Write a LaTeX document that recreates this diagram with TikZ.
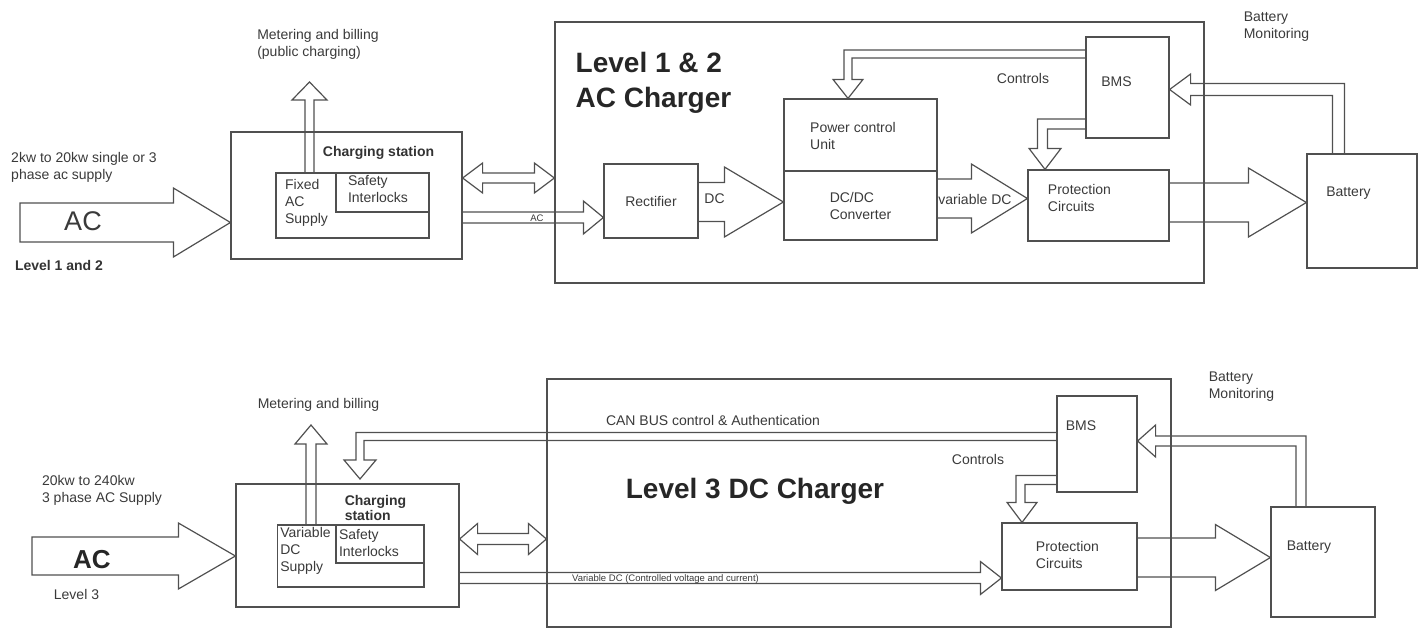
\documentclass[tikz,border=0pt]{standalone}
\usepackage{fontspec}
\setmainfont{Liberation Sans}
\usetikzlibrary{positioning, calc}

\definecolor{linegray}{HTML}{505050}
\definecolor{textgray}{HTML}{3A3A3A}

\tikzset{
  box/.style 2 args={draw=linegray, line width=1.2pt, minimum width=#1pt, minimum height=#2pt, inner sep=0pt},
  flow/.style={draw=linegray, line width=1.2pt, line join=miter},
  txt/.style={font=\fontsize{14}{17}\selectfont, text=textgray, align=left, inner sep=0pt},
  boldtxt/.style={font=\fontsize{14}{15}\bfseries\selectfont, text=black!80, align=left, inner sep=0pt},
  headtxt/.style={font=\fontsize{28}{35}\bfseries\selectfont, text=black!85, align=left, inner sep=0pt},
  tinytxt/.style={font=\fontsize{9.5}{10}\selectfont, text=textgray, inner sep=0pt},
}

% straight block arrow: [end], tail, tip, shaft half width, head half width, head length
\newcommand{\fatarrow}[6][]{%
  \draw[flow] ($(#2)!#4pt!90:(#3)$)
    -- ($(#3)!#6pt!(#2)!#4pt!90:(#3)$)
    -- ($(#3)!#6pt!(#2)!#5pt!90:(#3)$)
    -- (#3)
    -- ($(#3)!#6pt!(#2)!#5pt!-90:(#3)$)
    -- ($(#3)!#6pt!(#2)!#4pt!-90:(#3)$)
    -- ($(#2)!#4pt!-90:(#3)$) #1;}

% block arrow with two heads
\newcommand{\fatdarrow}[5]{%
  \draw[flow] (#1)
    -- ($(#1)!#5pt!(#2)!#4pt!90:(#2)$)
    -- ($(#1)!#5pt!(#2)!#3pt!90:(#2)$)
    -- ($(#2)!#5pt!(#1)!#3pt!-90:(#1)$)
    -- ($(#2)!#5pt!(#1)!#4pt!-90:(#1)$)
    -- (#2)
    -- ($(#2)!#5pt!(#1)!#4pt!90:(#1)$)
    -- ($(#2)!#5pt!(#1)!#3pt!90:(#1)$)
    -- ($(#1)!#5pt!(#2)!#3pt!-90:(#2)$)
    -- ($(#1)!#5pt!(#2)!#4pt!-90:(#2)$)
    -- cycle;}

% bent block arrow, first horizontal then vertical
\newcommand{\elbowhv}[6]{%
  \draw[flow] let \p1=(#1), \p2=(#2), \p3=(#3),
      \n1={sign(\x1-\x2)}, \n2={sign(\y3-\y2)} in
    (\x1, {\y2-(\n2)*#4pt})
    -- ({\x2-(\n1)*#4pt}, {\y2-(\n2)*#4pt})
    -- ({\x2-(\n1)*#4pt}, {\y3-(\n2)*#6pt})
    -- ({\x3-(\n1)*#5pt}, {\y3-(\n2)*#6pt})
    -- (\x3, \y3)
    -- ({\x3+(\n1)*#5pt}, {\y3-(\n2)*#6pt})
    -- ({\x2+(\n1)*#4pt}, {\y3-(\n2)*#6pt})
    -- ({\x2+(\n1)*#4pt}, {\y2+(\n2)*#4pt})
    -- (\x1, {\y2+(\n2)*#4pt});}

% bent block arrow, first vertical then horizontal
\newcommand{\elbowvh}[6]{%
  \draw[flow] let \p1=(#1), \p2=(#2), \p3=(#3),
      \n1={sign(\y1-\y2)}, \n2={sign(\x3-\x2)} in
    ({\x2-(\n2)*#4pt}, \y1)
    -- ({\x2-(\n2)*#4pt}, {\y2-(\n1)*#4pt})
    -- ({\x3-(\n2)*#6pt}, {\y2-(\n1)*#4pt})
    -- ({\x3-(\n2)*#6pt}, {\y3-(\n1)*#5pt})
    -- (\x3, \y3)
    -- ({\x3-(\n2)*#6pt}, {\y3+(\n1)*#5pt})
    -- ({\x3-(\n2)*#6pt}, {\y2+(\n1)*#4pt})
    -- ({\x2+(\n2)*#4pt}, {\y2+(\n1)*#4pt})
    -- ({\x2+(\n2)*#4pt}, \y1);}

\begin{document}
\begin{tikzpicture}[x=1pt, y=-1pt]
  \useasboundingbox (0,0) rectangle (1422,629);

  % Level 1 & 2: boxes
  \node[box={231}{127}] (cs1) at (346.5,195.5) {};
  \node[box={153}{65}] (sup1) at (352.5,205.5) {};
  \node[box={93}{39}] (saf1) at (382.5,192.5) {};
  \node[box={649}{261}] (chg1) at (879.5,152.5) {};
  \node[box={94}{74}, txt] (rect1) at (651,201) {Rectifier};
  \node[box={153}{72}] (pcu) at (860.5,135) {};
  \node[box={153}{69}, txt] (dcdc) at (860.5,205.5) {DC/DC\\Converter};
  \node[box={83}{101}] (bms1) at (1127.5,87.5) {};
  \node[box={141}{71}] (prot1) at (1098.5,205.5) {};
  \node[box={110}{114}] (bat1) at (1362,211) {};

  % Level 1 & 2: texts
  \node[txt] (in1) at (84,167) {2kw to 20kw single or 3\\phase ac supply};
  \node[font=\fontsize{27}{30}\selectfont, text=textgray, inner sep=0pt] (ac1) at (83,221) {AC};
  \node[boldtxt] (lvl1) at (59,265) {Level 1 and 2};
  \node[txt] (meter1) at (318,44) {Metering and billing\\(public charging)};
  \node[boldtxt] (cs1txt) at (378.5,153) {Charging station};
  \node[txt] (sup1txt) at (306.5,203) {Fixed\\AC\\Supply};
  \node[txt] (saf1txt) at (378,189) {Safety\\Interlocks};
  \node[headtxt] (chg1txt) at (653.5,82.5) {Level 1 \& 2\\AC Charger};
  \node[txt] (pcutxt) at (853,135.5) {Power control\\Unit};
  \node[txt] (bms1txt) at (1116.5,82) {BMS};
  \node[txt] (prot1txt) at (1079.5,198) {Protection\\Circuits};
  \node[txt] (bat1txt) at (1348.5,193) {Battery};
  \node[txt] (ctl1txt) at (1023,78) {Controls};
  \node[txt] (bm1txt) at (1276.5,26.5) {Battery\\Monitoring};

  % Level 1 & 2: arrows
  \coordinate (ac1in) at (20,222.5);
  \coordinate (ac1tip) at (ac1in -| cs1.west);
  \fatarrow[-- cycle]{ac1in}{ac1tip}{19.5}{34.5}{57}

  \coordinate (met1a) at (sup1.north -| 309.5,0);
  \coordinate (met1b) at (met1a |- 0,82);
  \fatarrow{met1a}{met1b}{4.5}{17.5}{18}

  \coordinate (lnk1a) at (cs1.east |- 0,178);
  \coordinate (lnk1b) at (lnk1a -| chg1.west);
  \fatdarrow{lnk1a}{lnk1b}{5}{15}{20}

  \coordinate (acl1a) at (cs1.east |- 0,217.5);
  \coordinate (acl1b) at (acl1a -| rect1.west);
  \fatarrow{acl1a}{acl1b}{5.5}{16.5}{20}
  \node[tinytxt] (acl1txt) at (537,218) {AC};

  \coordinate (dc1a) at (rect1.east |- 0,202);
  \coordinate (dc1b) at (dc1a -| dcdc.west);
  \fatarrow{dc1a}{dc1b}{19.5}{35}{59}
  \node[txt] (dc1txt) at (714.5,199) {DC};

  \coordinate (vdc1a) at (dcdc.east |- 0,198.5);
  \coordinate (vdc1b) at (vdc1a -| prot1.west);
  \fatarrow{vdc1a}{vdc1b}{19.5}{34.5}{56}
  \node[txt] (vdc1txt) at (975,199) {variable DC};

  \coordinate (pb1a) at (prot1.east |- 0,202.5);
  \coordinate (pb1b) at (pb1a -| bat1.west);
  \fatarrow{pb1a}{pb1b}{19.5}{34.5}{58}

  \coordinate (ctl1a) at (bms1.west |- 0,54);
  \coordinate (ctl1b) at (848,54);
  \coordinate (ctl1c) at (ctl1b |- pcu.north);
  \elbowhv{ctl1a}{ctl1b}{ctl1c}{4}{15}{19}

  \coordinate (bp1a) at (bms1.west |- 0,124);
  \coordinate (bp1b) at (1042.5,124);
  \coordinate (bp1c) at (prot1.north -| 1045,0);
  \elbowhv{bp1a}{bp1b}{bp1c}{5}{16}{21}

  \coordinate (bm1a) at (bat1.north -| 1338.5,0);
  \coordinate (bm1b) at (1338.5,89.5);
  \coordinate (bm1c) at (bms1.east |- bm1b);
  \elbowvh{bm1a}{bm1b}{bm1c}{6}{15.5}{21}

  % Level 3: boxes
  \node[box={223}{123}] (cs2) at (347.5,545.5) {};
  \node[box={146.5}{62}] (sup2) at (350.75,556) {};
  \node[box={88}{38}] (saf2) at (380,544) {};
  \node[box={624}{248}] (chg2) at (859,503) {};
  \node[box={80}{96}] (bms2) at (1097,444) {};
  \node[box={135}{67}] (prot2) at (1069.5,556.5) {};
  \node[box={104}{110}] (bat2) at (1323,562) {};

  % Level 3: texts
  \node[txt] (in2) at (102,490) {20kw to 240kw\\3 phase AC Supply};
  \node[font=\fontsize{26}{30}\bfseries\selectfont, text=black!85, inner sep=0pt] (ac2) at (92,560) {AC};
  \node[txt] (lvl2) at (76.5,594) {Level 3};
  \node[txt] (meter2) at (318.5,405) {Metering and billing};
  \node[boldtxt] (cs2txt) at (375.5,507.5) {Charging\\station};
  \node[txt] (sup2txt) at (305.5,551) {Variable\\DC\\Supply};
  \node[txt] (saf2txt) at (369,542.5) {Safety\\Interlocks};
  \node[txt] (can2txt) at (713,420) {CAN BUS control \& Authentication};
  \node[headtxt] (chg2txt) at (755,491) {Level 3 DC Charger};
  \node[txt] (ctl2txt) at (978,459) {Controls};
  \node[txt] (bms2txt) at (1081,426) {BMS};
  \node[txt] (prot2txt) at (1067.5,555) {Protection\\Circuits};
  \node[txt] (bat2txt) at (1309,547) {Battery};
  \node[txt] (bm2txt) at (1241.5,387) {Battery\\Monitoring};

  % Level 3: arrows
  \coordinate (ac2in) at (32,556);
  \coordinate (ac2tip) at (ac2in -| cs2.west);
  \fatarrow[-- cycle]{ac2in}{ac2tip}{19}{33}{57}

  \coordinate (met2a) at (sup2.north -| 311,0);
  \coordinate (met2b) at (met2a |- 0,425);
  \fatarrow{met2a}{met2b}{5}{16}{19}

  \coordinate (can2a) at (bms2.west |- 0,436.5);
  \coordinate (can2b) at (360,436.5);
  \coordinate (can2c) at (360,479);
  \elbowhv{can2a}{can2b}{can2c}{4}{16}{19}

  \coordinate (lnk2a) at (cs2.east |- 0,539);
  \coordinate (lnk2b) at (lnk2a -| chg2.west);
  \fatdarrow{lnk2a}{lnk2b}{5.5}{15.5}{18}

  \coordinate (vdc2a) at (cs2.east |- 0,578);
  \coordinate (vdc2b) at (vdc2a -| prot2.west);
  \fatarrow{vdc2a}{vdc2b}{5.5}{16.5}{21}
  \node[tinytxt] (vdc2txt) at (665.5,579) {Variable DC (Controlled voltage and current)};

  \coordinate (ctl2a) at (bms2.west |- 0,480);
  \coordinate (ctl2b) at (1020.5,480);
  \coordinate (ctl2c) at (prot2.north -| 1022,0);
  \elbowhv{ctl2a}{ctl2b}{ctl2c}{4.5}{15}{20}

  \coordinate (pb2a) at (prot2.east |- 0,557.5);
  \coordinate (pb2b) at (pb2a -| bat2.west);
  \fatarrow{pb2a}{pb2b}{19.5}{33}{55}

  \coordinate (bm2a) at (bat2.north -| 1301,0);
  \coordinate (bm2b) at (1301,441);
  \coordinate (bm2c) at (bms2.east |- bm2b);
  \elbowvh{bm2a}{bm2b}{bm2c}{5}{16}{18}
\end{tikzpicture}
\end{document}
